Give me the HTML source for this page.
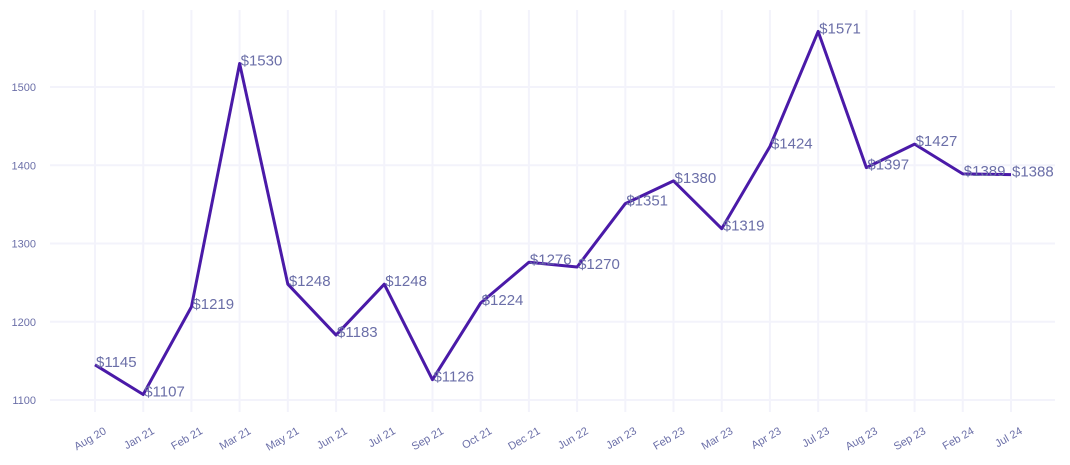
<!DOCTYPE html>
<html><head><meta charset="utf-8"><style>
html,body{margin:0;padding:0;background:#fff;}
svg{display:block;font-family:"Liberation Sans",Arial,sans-serif;}
</style></head><body>
<svg id="chart" width="1070" height="465" viewBox="0 0 1070 465"></svg>
<script>
const categories=["Aug 20","Jan 21","Feb 21","Mar 21","May 21","Jun 21","Jul 21","Sep 21","Oct 21","Dec 21","Jun 22","Jan 23","Feb 23","Mar 23","Apr 23","Jul 23","Aug 23","Sep 23","Feb 24","Jul 24"];
const values=[1145,1107,1219,1530,1248,1183,1248,1126,1224,1276,1270,1351,1380,1319,1424,1571,1397,1427,1389,1388];
const yTicks=[1100,1200,1300,1400,1500];
const svg=document.getElementById('chart');
const NS='http://www.w3.org/2000/svg';
const x0=95,x1=1011,plotL=50,plotR=1055,plotT=10,plotB=412;
function xs(i){return x0+i*(x1-x0)/(categories.length-1);}
function ys(v){return 400-(v-1100)*(313/400);}
function mk(t,a,p){const e=document.createElementNS(NS,t);for(const k in a)e.setAttribute(k,a[k]);(p||svg).appendChild(e);return e;}
const grid=mk('g',{});


yTicks.forEach(v=>{
  mk('line',{x1:plotL,x2:plotR,y1:ys(v),y2:ys(v),stroke:'#f3f3fb','stroke-width':2},grid);
  const t=mk('text',{x:36,y:ys(v)+4,'text-anchor':'end','font-size':11,fill:'#6b6fa8'});
  
  
  t.textContent=v;
});
categories.forEach((c,i)=>{
  mk('line',{x1:xs(i),x2:xs(i),y1:plotT,y2:plotB,stroke:'#f3f3fb','stroke-width':2},grid);
  const t=mk('text',{x:0,y:0,'text-anchor':'end','font-size':11,fill:'#6b6fa8',transform:`translate(${xs(i)+12},${433}) rotate(-30)`});
  
  
  t.textContent=c;
});
const pts=values.map((v,i)=>xs(i)+','+ys(v)).join(' ');
const line=mk('polyline',{points:pts,fill:'none',stroke:'#4a1aa8','stroke-width':3,'stroke-linejoin':'round'});


values.forEach((v,i)=>{
  const t=mk('text',{x:xs(i)+1,y:ys(v)+2,'font-size':15,fill:'#6b6fa8'});
  
  
  t.textContent='$'+v;
});
</script>
</body></html>
